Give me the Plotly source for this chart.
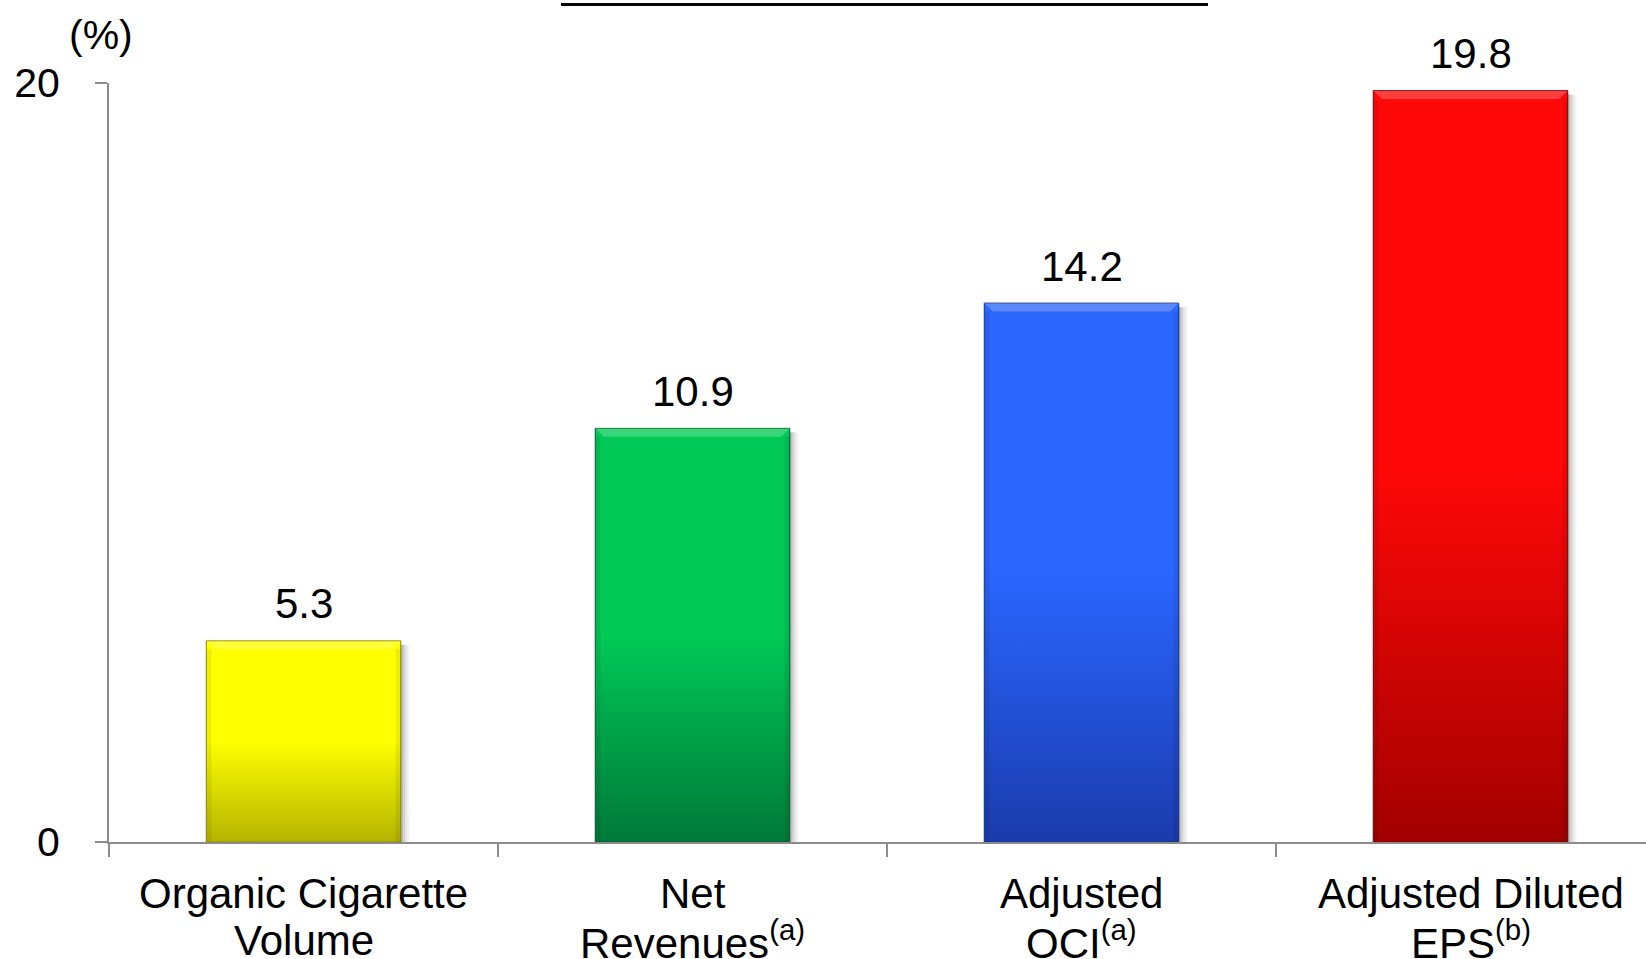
import plotly.graph_objects as go

# Growth measures (%) shown as bars
categories = [
    "Organic Cigarette<br>Volume",
    "Net<br>Revenues<sup>(a)</sup>",
    "Adjusted<br>OCI<sup>(a)</sup>",
    "Adjusted Diluted<br>EPS<sup>(b)</sup>",
]
values = [5.3, 10.9, 14.2, 19.8]
value_labels = ["5.3", "10.9", "14.2", "19.8"]
y_tick_vals = [0, 20]
y_tick_text = ["0", "20"]

# top (bright) and bottom (dark) colour of each bar's gradient
top_colors = ["#FFFF00", "#00C957", "#2B66FF", "#FF0808"]
bottom_colors = ["#B4B400", "#00793A", "#1A3BAC", "#A20000"]
edge_colors = ["#8A8A00", "#005C2C", "#12308A", "#7A0000"]

FONT = "Liberation Sans, Arial, sans-serif"
BAR_HALF = 0.25
BEVEL_X = 0.022   # bevel width in category units
BEVEL_Y = 0.22    # bevel depth in value units

fig = go.Figure()

for i, (v, ctop, cbot, cedge) in enumerate(zip(values, top_colors, bottom_colors, edge_colors)):
    x0, x1 = i - BAR_HALF, i + BAR_HALF
    # soft drop shadow to the right of each bar
    for k, a in enumerate([0.12, 0.09, 0.06, 0.04]):
        dx = 0.005 + 0.006 * k
        fig.add_trace(go.Scatter(
            x=[x0 + dx, x1 + dx, x1 + dx, x0 + dx, x0 + dx],
            y=[-0.2, -0.2, v - 0.1, v - 0.1, -0.2],
            mode="lines", fill="toself", line=dict(width=0),
            fillcolor=f"rgba(0,0,0,{a})", hoverinfo="skip", showlegend=False,
        ))
    # the bar itself with a vertical gradient
    fig.add_trace(go.Scatter(
        x=[x0, x1, x1, x0, x0],
        y=[0, 0, v, v, 0],
        mode="lines", fill="toself",
        line=dict(width=1, color=cedge),
        fillgradient=dict(
            type="vertical", start=0, stop=v,
            colorscale=[[0, cbot], [0.5, ctop], [1, ctop]],
        ),
        hoverinfo="skip", showlegend=False,
    ))
    # bevel: light top edge, darker side edges
    fig.add_trace(go.Scatter(
        x=[x0, x1, x1 - BEVEL_X, x0 + BEVEL_X, x0],
        y=[v, v, v - BEVEL_Y, v - BEVEL_Y, v],
        mode="lines", fill="toself", line=dict(width=0),
        fillcolor="rgba(255,255,255,0.22)", hoverinfo="skip", showlegend=False,
    ))
    for xa, xb in [(x0, x0 + BEVEL_X * 0.6), (x1 - BEVEL_X * 0.6, x1)]:
        fig.add_trace(go.Scatter(
            x=[xa, xb, xb, xa, xa],
            y=[0, 0, v - BEVEL_Y, v - BEVEL_Y, 0],
            mode="lines", fill="toself", line=dict(width=0),
            fillcolor="rgba(0,0,0,0.07)", hoverinfo="skip", showlegend=False,
        ))

# value labels above the bars
for i, (v, t) in enumerate(zip(values, value_labels)):
    fig.add_annotation(
        x=i, y=v, text=t, showarrow=False, yanchor="middle", yshift=37,
        font=dict(family=FONT, size=42, color="black"),
    )

# category labels, one annotation per line
for i, cat in enumerate(categories):
    for j, line in enumerate(cat.split("<br>")):
        fig.add_annotation(
            x=i, y=0, text=line, showarrow=False, yanchor="middle",
            yshift=-51 - 47 * j,
            font=dict(family=FONT, size=42, color="black"),
        )

# unit label
fig.add_annotation(
    xref="paper", yref="paper", x=0, y=1, text="(%)", showarrow=False,
    xanchor="center", yanchor="middle", xshift=-8, yshift=48,
    font=dict(family=FONT, size=41, color="black"),
)

# underline of the heading above the chart
fig.add_shape(
    type="line", xref="paper", yref="paper",
    x0=(561 - 109) / 1537, x1=(1208 - 109) / 1537,
    y0=(842 - 4.5) / 759, y1=(842 - 4.5) / 759,
    line=dict(color="black", width=3),
)

fig.update_layout(
    width=1646, height=959,
    margin=dict(l=109, r=0, t=83, b=117),
    plot_bgcolor="white", paper_bgcolor="white",
    font=dict(family=FONT, size=41, color="black"),
    showlegend=False,
    xaxis=dict(
        range=[-0.5, -0.5 + 1537 / 389], showgrid=False, zeroline=False,
        showline=True, linecolor="#8C8C8C", linewidth=2,
        tickvals=[-0.5, 0.5, 1.5, 2.5, 3.5], ticks="outside", ticklen=13,
        tickcolor="#8C8C8C", tickwidth=2, showticklabels=False, fixedrange=True,
    ),
    yaxis=dict(
        range=[0, 20], showgrid=False, zeroline=False,
        showline=True, linecolor="#8C8C8C", linewidth=2,
        tickvals=y_tick_vals, ticktext=y_tick_text, ticks="outside", ticklen=12,
        tickcolor="#8C8C8C", tickwidth=2, ticklabelstandoff=27,
        tickfont=dict(family=FONT, size=41, color="black"), fixedrange=True,
    ),
)

fig.write_html("out.html")
